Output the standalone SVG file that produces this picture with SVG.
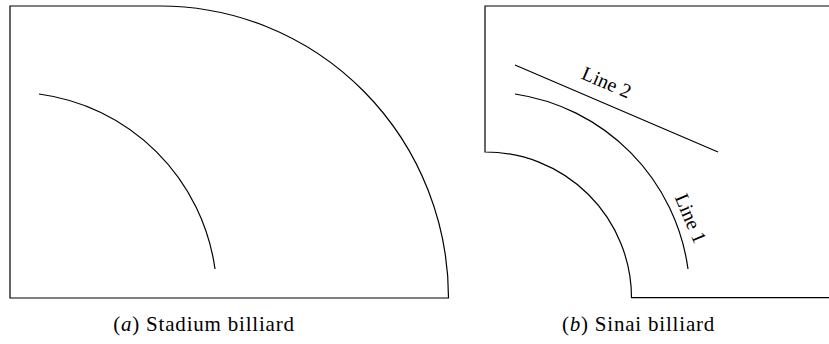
<svg xmlns="http://www.w3.org/2000/svg" width="829" height="344" viewBox="0 0 829 344">
<style>
.ln{fill:none;stroke:#000;stroke-width:1.2}
.lbl{font-family:'Liberation Serif',serif;font-size:20px;fill:#000}
.cap{font-family:'Liberation Serif',serif;font-size:21px;fill:#000;letter-spacing:0.8px}
</style>
<rect width="829" height="344" fill="#fff"/>
<g id="stadium">
<path class="ln" d="M160,6 H10 V298 H448.5 A288.5,292 0 0 0 160,6"/>
<path class="ln" d="M39,94 A205,205 0 0 1 215,269"/>
<text class="cap" x="204" y="331" text-anchor="middle">(<tspan font-style="italic">a</tspan>) Stadium billiard</text>
</g>
<g id="sinai">
<path class="ln" d="M829,6 H485 V152 A146,146 0 0 1 631.5,297.7 H829"/>
<path class="ln" d="M515,94 A205,205 0 0 1 688,269"/>
<path class="ln" d="M515,65 L718,152"/>
<text class="lbl" transform="translate(604,88.5) rotate(23.2)" text-anchor="middle">Line 2</text>
<text class="lbl" transform="translate(684.5,221) rotate(67)" text-anchor="middle">Line 1</text>
<text class="cap" x="638.5" y="331" text-anchor="middle">(<tspan font-style="italic">b</tspan>) Sinai billiard</text>
</g>
</svg>
